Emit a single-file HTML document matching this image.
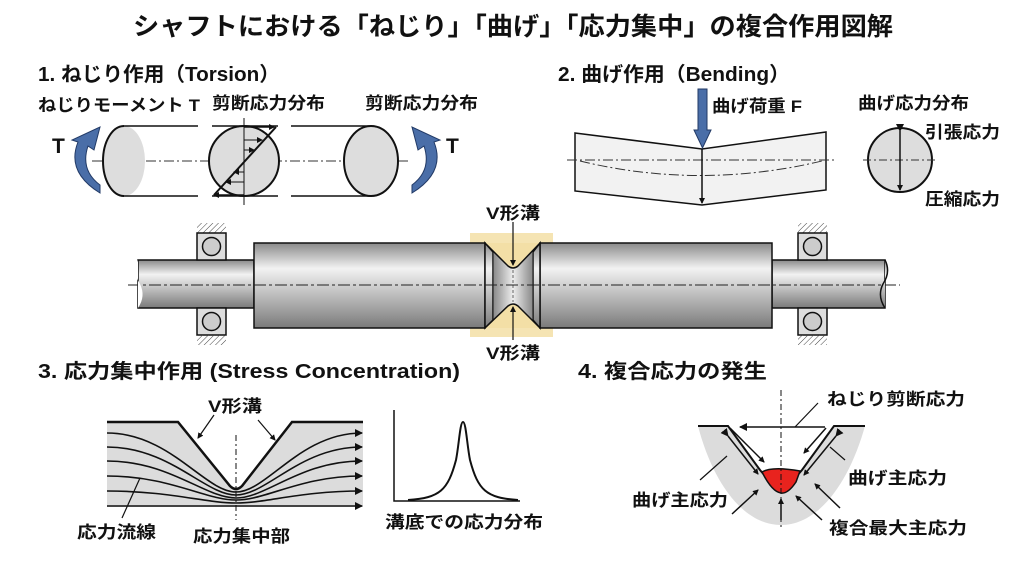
<!DOCTYPE html>
<html><head><meta charset="utf-8"><style>
html,body{margin:0;padding:0;background:#fff}
svg{display:block}
text{font-family:"Liberation Sans","Noto Sans CJK JP",sans-serif;font-weight:bold;fill:#111}
</style></head><body>
<svg width="1024" height="572" viewBox="0 0 1024 572" xmlns="http://www.w3.org/2000/svg">
<defs>
<linearGradient id="cyl" x1="0" y1="0" x2="0" y2="1">
<stop offset="0" stop-color="#8a8a8a"/><stop offset="0.3" stop-color="#f2f2f2"/><stop offset="0.55" stop-color="#c8c8c8"/><stop offset="1" stop-color="#7a7a7a"/></linearGradient>
<linearGradient id="grv" x1="0" y1="0" x2="1" y2="0">
<stop offset="0" stop-color="#888"/><stop offset="0.5" stop-color="#eee"/><stop offset="1" stop-color="#888"/></linearGradient>
<marker id="ah" markerWidth="8" markerHeight="8" refX="7" refY="4" orient="auto" markerUnits="userSpaceOnUse"><path d="M0,0 L8,4 L0,8 z" fill="#111"/></marker>
<marker id="ahs" markerWidth="6" markerHeight="6" refX="5" refY="3" orient="auto" markerUnits="userSpaceOnUse"><path d="M0,0 L6,3 L0,6 z" fill="#111"/></marker>
<marker id="ahb" markerWidth="8" markerHeight="8" refX="1" refY="4" orient="auto-start-reverse" markerUnits="userSpaceOnUse"><path d="M8,0 L0,4 L8,8 z" fill="#111"/></marker>
<pattern id="hat" width="4" height="4" patternUnits="userSpaceOnUse" patternTransform="rotate(45)"><line x1="0" y1="0" x2="0" y2="4" stroke="#444" stroke-width="1"/></pattern>
</defs>

<text x="133" y="35" font-size="25" textLength="760" lengthAdjust="spacingAndGlyphs">シャフトにおける「ねじり」「曲げ」「応力集中」の複合作用図解</text>

<!-- Section 1 -->
<text x="38" y="81" font-size="20" textLength="242" lengthAdjust="spacingAndGlyphs">1. ねじり作用（Torsion）</text>
<text x="38" y="111" font-size="17" textLength="162" lengthAdjust="spacingAndGlyphs">ねじりモーメント T</text>
<text x="212" y="109" font-size="17" textLength="113" lengthAdjust="spacingAndGlyphs">剪断応力分布</text>
<text x="365" y="109" font-size="17" textLength="113" lengthAdjust="spacingAndGlyphs">剪断応力分布</text>
<text x="52" y="153" font-size="21">T</text>
<text x="446" y="153" font-size="21">T</text>
<line x1="92" y1="161" x2="410" y2="161" stroke="#333" stroke-width="1" stroke-dasharray="10,3,2,3"/>
<ellipse cx="124" cy="161" rx="21" ry="35" fill="#ddd"/>
<path d="M124,126 A21,35 0 0 0 124,196" fill="none" stroke="#111" stroke-width="2"/>
<line x1="124" y1="126" x2="198" y2="126" stroke="#111" stroke-width="1.5"/>
<line x1="124" y1="196" x2="198" y2="196" stroke="#111" stroke-width="1.5"/>
<line x1="212" y1="126" x2="278" y2="126" stroke="#111" stroke-width="1.5"/>
<line x1="212" y1="196" x2="278" y2="196" stroke="#111" stroke-width="1.5"/>
<ellipse cx="244" cy="161" rx="35" ry="35" fill="#ddd" stroke="#111" stroke-width="2"/>
<line x1="244" y1="118" x2="244" y2="205" stroke="#111" stroke-width="1"/>
<line x1="214" y1="195" x2="276" y2="127" stroke="#111" stroke-width="2"/>
<line x1="244" y1="127" x2="274" y2="127" stroke="#111" stroke-width="1.5" marker-end="url(#ahs)"/>
<line x1="244" y1="195" x2="214" y2="195" stroke="#111" stroke-width="1.5" marker-end="url(#ahs)"/>
<line x1="244" y1="140" x2="262" y2="140" stroke="#111" stroke-width="1" marker-end="url(#ahs)"/>
<line x1="244" y1="150" x2="254" y2="150" stroke="#111" stroke-width="1" marker-end="url(#ahs)"/>
<line x1="244" y1="172" x2="234" y2="172" stroke="#111" stroke-width="1" marker-end="url(#ahs)"/>
<line x1="244" y1="182" x2="226" y2="182" stroke="#111" stroke-width="1" marker-end="url(#ahs)"/>
<line x1="291" y1="126" x2="371" y2="126" stroke="#111" stroke-width="1.5"/>
<line x1="291" y1="196" x2="371" y2="196" stroke="#111" stroke-width="1.5"/>
<ellipse cx="371" cy="161" rx="27" ry="35" fill="#ddd" stroke="#111" stroke-width="2"/>
<path d="M100,193 Q66,172 78,142 L72,140 L100,127 L94,150 L88,146 Q80,170 100,185 z" fill="#4a6ea8" stroke="#223a66" stroke-width="1"/>
<path d="M412,193 Q446,172 434,142 L440,140 L412,127 L418,150 L424,146 Q432,170 412,185 z" fill="#4a6ea8" stroke="#223a66" stroke-width="1"/>

<!-- Section 2 -->
<text x="558" y="81" font-size="20" textLength="232" lengthAdjust="spacingAndGlyphs">2. 曲げ作用（Bending）</text>
<path d="M575,133 L702,149 L826,132 L826,190 L702,205 L575,191 z" fill="#f2f2f2" stroke="#111" stroke-width="1.5"/>
<line x1="567" y1="160" x2="836" y2="160" stroke="#333" stroke-width="1" stroke-dasharray="10,3,2,3"/>
<path d="M580,161 Q700,190 822,161" fill="none" stroke="#333" stroke-width="1" stroke-dasharray="10,3,2,3"/>
<line x1="702" y1="149" x2="702" y2="203" stroke="#111" stroke-width="1.5" marker-end="url(#ahs)"/>
<path d="M698,89 L707,89 L707,130 L711,130 L702.5,148 L694,130 L698,130 z" fill="#4a6ea8" stroke="#223a66" stroke-width="1"/>
<text x="712" y="112" font-size="17" textLength="90" lengthAdjust="spacingAndGlyphs">曲げ荷重 F</text>
<text x="858" y="109" font-size="17" textLength="111" lengthAdjust="spacingAndGlyphs">曲げ応力分布</text>
<text x="925" y="138" font-size="17" textLength="75" lengthAdjust="spacingAndGlyphs">引張応力</text>
<text x="925" y="205" font-size="17" textLength="75" lengthAdjust="spacingAndGlyphs">圧縮応力</text>
<circle cx="900" cy="160" r="32" fill="#ddd" stroke="#111" stroke-width="2"/>
<line x1="863" y1="160" x2="938" y2="160" stroke="#333" stroke-width="1" stroke-dasharray="8,3,2,3"/>
<line x1="900" y1="131" x2="900" y2="190" stroke="#111" stroke-width="1.5" marker-start="url(#ahb)" marker-end="url(#ahs)"/>

<!-- Shaft -->
<rect x="470" y="233" width="83" height="104" fill="#f3dfa6" opacity="0.85"/>
<rect x="138" y="260" width="116" height="48" fill="url(#cyl)" stroke="#111" stroke-width="1.5"/>
<rect x="772" y="260" width="113" height="48" fill="url(#cyl)" stroke="#111" stroke-width="1.5"/>
<rect x="254" y="243" width="231" height="85" fill="url(#cyl)" stroke="#111" stroke-width="1.5"/>
<rect x="540" y="243" width="232" height="85" fill="url(#cyl)" stroke="#111" stroke-width="1.5"/>
<path d="M485,243 L493,252 L493,320 L485,328 z" fill="url(#cyl)" stroke="#111" stroke-width="1.5"/>
<path d="M540,243 L533,252 L533,320 L540,328 z" fill="url(#cyl)" stroke="#111" stroke-width="1.5"/>
<rect x="493" y="252" width="40" height="68" fill="url(#grv)"/>
<path d="M485,243 L508,266 Q513,270 518,266 L540,243" fill="#f3dfa6" stroke="#111" stroke-width="1.5"/>
<path d="M485,328 L508,306 Q513,302 518,306 L540,328" fill="#f3dfa6" stroke="#111" stroke-width="1.5"/>
<line x1="493" y1="252" x2="493" y2="320" stroke="#111" stroke-width="1"/>
<line x1="533" y1="252" x2="533" y2="320" stroke="#111" stroke-width="1"/>
<line x1="540" y1="243" x2="540" y2="328" stroke="#111" stroke-width="1"/>
<line x1="513" y1="270" x2="513" y2="302" stroke="#666" stroke-width="1" stroke-dasharray="3,2"/>
<line x1="128" y1="285" x2="900" y2="285" stroke="#222" stroke-width="1" stroke-dasharray="12,3,3,3"/>
<path d="M138,260 Q132,272 140,284 Q146,296 138,308" fill="#fff" stroke="none"/>
<path d="M885,260 Q891,272 883,284 Q877,296 885,308" fill="url(#cyl)" stroke="#111" stroke-width="1.5"/>
<g stroke="#111" stroke-width="1.5">
<rect x="197" y="223" width="29" height="10" fill="url(#hat)" stroke="none"/>
<rect x="197" y="233" width="29" height="27" fill="#ddd"/><circle cx="211.5" cy="246.5" r="9" fill="#ccc"/>
<rect x="197" y="308" width="29" height="27" fill="#ddd"/><circle cx="211.5" cy="321.5" r="9" fill="#ccc"/>
<rect x="197" y="335" width="29" height="10" fill="url(#hat)" stroke="none"/>
<rect x="798" y="223" width="29" height="10" fill="url(#hat)" stroke="none"/>
<rect x="798" y="233" width="29" height="27" fill="#ddd"/><circle cx="812.5" cy="246.5" r="9" fill="#ccc"/>
<rect x="798" y="308" width="29" height="27" fill="#ddd"/><circle cx="812.5" cy="321.5" r="9" fill="#ccc"/>
<rect x="798" y="335" width="29" height="10" fill="url(#hat)" stroke="none"/>
</g>
<text x="486" y="219" font-size="17" textLength="54" lengthAdjust="spacingAndGlyphs">V形溝</text>
<text x="486" y="359" font-size="17" textLength="54" lengthAdjust="spacingAndGlyphs">V形溝</text>
<line x1="513" y1="222" x2="513" y2="265" stroke="#111" stroke-width="1.2" marker-end="url(#ahs)"/>
<line x1="513" y1="340" x2="513" y2="307" stroke="#111" stroke-width="1.2" marker-end="url(#ahs)"/>

<!-- Section 3 -->
<text x="38" y="378" font-size="20" textLength="422" lengthAdjust="spacingAndGlyphs">3. 応力集中作用 (Stress Concentration)</text>
<path d="M107,422 L178,422 L230,486 Q236,492 242,486 L292,422 L363,422 L363,507 L107,507 z" fill="#dcdcdc"/>
<path d="M107,422 L178,422 L230,486 Q236,492 242,486 L292,422 L363,422" fill="none" stroke="#111" stroke-width="2.5"/>
<g fill="none" stroke="#111" stroke-width="1.6" marker-end="url(#ah)">
<path d="M107,433 C170,433 205,492 236,492 C267,492 300,433 362,433"/>
<path d="M107,447 C170,447 205,495 236,495 C267,495 300,447 362,447"/>
<path d="M107,461 C170,461 205,498 236,498 C267,498 300,461 362,461"/>
<path d="M107,476 C170,476 205,500 236,500 C267,500 300,476 362,476"/>
<path d="M107,491 C170,491 205,503 236,503 C267,503 300,491 362,491"/>
<path d="M107,506 L362,506"/>
</g>
<line x1="236" y1="435" x2="236" y2="520" stroke="#111" stroke-width="1" stroke-dasharray="6,3,2,3"/>
<text x="208" y="412" font-size="17" textLength="54" lengthAdjust="spacingAndGlyphs">V形溝</text>
<line x1="214" y1="415" x2="198" y2="438" stroke="#111" stroke-width="1.2" marker-end="url(#ahs)"/>
<line x1="258" y1="420" x2="275" y2="440" stroke="#111" stroke-width="1.2" marker-end="url(#ahs)"/>
<line x1="140" y1="478" x2="122" y2="518" stroke="#111" stroke-width="1.2"/>
<text x="77" y="538" font-size="17" textLength="79" lengthAdjust="spacingAndGlyphs">応力流線</text>
<text x="193" y="542" font-size="17" textLength="97" lengthAdjust="spacingAndGlyphs">応力集中部</text>
<polyline points="394,410 394,501 520,501" fill="none" stroke="#111" stroke-width="1.5"/>
<path d="M408,500 C440,498 448,490 456,460 C459,445 460,422 463,422 C466,422 467,445 470,460 C478,490 486,498 518,500" fill="none" stroke="#111" stroke-width="2"/>
<text x="385" y="528" font-size="17" textLength="158" lengthAdjust="spacingAndGlyphs">溝底での応力分布</text>

<!-- Section 4 -->
<text x="578" y="378" font-size="20" textLength="189" lengthAdjust="spacingAndGlyphs">4. 複合応力の発生</text>
<path d="M698,426 L728,426 L760,470 Q781,496 802,470 L834,426 L865,426 C850,480 820,525 781,525 C742,525 712,480 698,426 z" fill="#dcdcdc"/>
<path d="M698,426 L728,426 L760,470 Q781,496 802,470 L834,426 L865,426" fill="none" stroke="#111" stroke-width="2"/>
<path d="M762,472 Q772,466 800,471 L796,482 Q788,494 781,493 Q772,492 762,472 z" fill="#e8231e" stroke="#111" stroke-width="1.5"/>
<line x1="781" y1="390" x2="781" y2="530" stroke="#111" stroke-width="1" stroke-dasharray="6,3,2,3"/>
<line x1="825" y1="427" x2="740" y2="427" stroke="#111" stroke-width="1.5" marker-end="url(#ah)"/>
<line x1="795" y1="427" x2="818" y2="403" stroke="#111" stroke-width="1.2"/>
<text x="827" y="405" font-size="17" textLength="138" lengthAdjust="spacingAndGlyphs">ねじり剪断応力</text>
<line x1="730" y1="428" x2="764" y2="462" stroke="#111" stroke-width="1.5" marker-end="url(#ahs)"/>
<line x1="826" y1="428" x2="804" y2="453" stroke="#111" stroke-width="1.5" marker-end="url(#ahs)"/>
<line x1="728" y1="436" x2="758" y2="474" stroke="#111" stroke-width="1.5" marker-start="url(#ahb)" marker-end="url(#ahs)"/>
<line x1="836" y1="436" x2="804" y2="475" stroke="#111" stroke-width="1.5" marker-start="url(#ahb)" marker-end="url(#ahs)"/>
<line x1="700" y1="480" x2="727" y2="456" stroke="#111" stroke-width="1.2"/>
<line x1="845" y1="460" x2="830" y2="447" stroke="#111" stroke-width="1.2"/>
<line x1="732" y1="514" x2="758" y2="490" stroke="#111" stroke-width="1.5" marker-end="url(#ahs)"/>
<line x1="840" y1="508" x2="815" y2="484" stroke="#111" stroke-width="1.5" marker-end="url(#ahs)"/>
<line x1="781" y1="520" x2="781" y2="499" stroke="#111" stroke-width="1.5" marker-end="url(#ahs)"/>
<line x1="822" y1="520" x2="796" y2="496" stroke="#111" stroke-width="1.5" marker-end="url(#ahs)"/>
<text x="848" y="484" font-size="17" textLength="99" lengthAdjust="spacingAndGlyphs">曲げ主応力</text>
<text x="632" y="506" font-size="17" textLength="96" lengthAdjust="spacingAndGlyphs">曲げ主応力</text>
<text x="829" y="534" font-size="17" textLength="138" lengthAdjust="spacingAndGlyphs">複合最大主応力</text>
</svg>
</body></html>
